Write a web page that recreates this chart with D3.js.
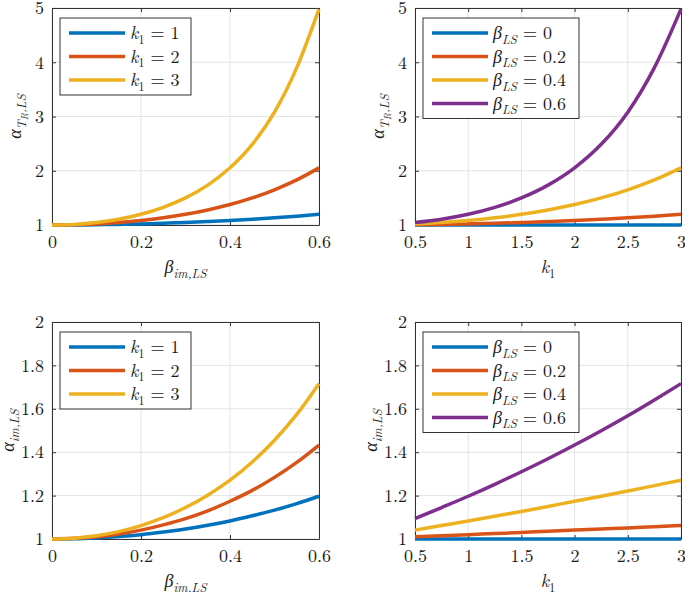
<!DOCTYPE html>
<html>
<head>
<meta charset="utf-8">
<script src="https://cdn.jsdelivr.net/npm/d3@7"></script>
</head>
<body style="margin:0; background:#fff">
<div id="chart-area"></div>
<script>
// x grids
const betaGrid = [0, 0.05, 0.1, 0.15, 0.2, 0.25, 0.3, 0.35, 0.4, 0.45, 0.5, 0.55, 0.6];
const k1Grid = [0.5, 0.75, 1, 1.25, 1.5, 1.75, 2, 2.25, 2.5, 2.75, 3];

// alpha_T vs beta (top left)
const aT_k1 = [1, 1.001, 1.005, 1.011, 1.020, 1.032, 1.046, 1.063, 1.083, 1.107, 1.133, 1.163, 1.197];
const aT_k2 = [1, 1.005, 1.020, 1.046, 1.083, 1.133, 1.197, 1.278, 1.377, 1.499, 1.649, 1.831, 2.054];
const aT_k3 = [1, 1.011, 1.046, 1.107, 1.197, 1.325, 1.499, 1.735, 2.054, 2.487, 3.080, 3.901, 4.98];

// alpha_T vs k1 (top right)
const aT_b0  = [1, 1, 1, 1, 1, 1, 1, 1, 1, 1, 1];
const aT_b02 = [1.005, 1.011, 1.020, 1.032, 1.046, 1.063, 1.083, 1.107, 1.133, 1.163, 1.197];
const aT_b04 = [1.020, 1.046, 1.083, 1.133, 1.197, 1.278, 1.377, 1.499, 1.649, 1.831, 2.054];
const aT_b06 = [1.046, 1.107, 1.197, 1.325, 1.499, 1.735, 2.054, 2.487, 3.080, 3.901, 4.98];

// alpha_im vs beta (bottom left)
const aIm_k1 = [1, 1.001, 1.005, 1.011, 1.020, 1.032, 1.046, 1.063, 1.083, 1.107, 1.133, 1.163, 1.197];
const aIm_k2 = [1, 1.003, 1.010, 1.023, 1.041, 1.065, 1.094, 1.130, 1.174, 1.224, 1.284, 1.353, 1.433];
const aIm_k3 = [1, 1.004, 1.015, 1.034, 1.062, 1.098, 1.145, 1.202, 1.271, 1.355, 1.455, 1.574, 1.716];

// alpha_im vs k1 (bottom right)
const aIm_b0  = [1, 1, 1, 1, 1, 1, 1, 1, 1, 1, 1];
const aIm_b02 = [1.010, 1.015, 1.020, 1.025, 1.030, 1.036, 1.041, 1.046, 1.051, 1.057, 1.062];
const aIm_b04 = [1.041, 1.062, 1.083, 1.105, 1.127, 1.150, 1.174, 1.197, 1.221, 1.246, 1.271];
const aIm_b06 = [1.094, 1.145, 1.197, 1.252, 1.310, 1.370, 1.433, 1.499, 1.568, 1.641, 1.716];

// ticks
const betaTicks = [0, 0.2, 0.4, 0.6];
const k1Ticks = [0.5, 1, 1.5, 2, 2.5, 3];
const aTTicks = [1, 2, 3, 4, 5];
const aImTicks = [1, 1.2, 1.4, 1.6, 1.8, 2];

// legend labels
const kLegend = ["1", "2", "3"];
const bLegend = ["0", "0.2", "0.4", "0.6"];

const colors = ["#0072BD", "#D95319", "#EDB120", "#7E2F8E"];
const FS = 18;
const FONT = '"Latin Modern Roman", "Liberation Serif", serif';

const svg = d3.select("#chart-area").append("svg")
    .attr("width", 685)
    .attr("height", 592);

// write a label made of italic / subscript pieces
function mathText(text, parts, size) {
    const shift = [0, 0.25, 0.4];
    const scale = [1, 0.7, 0.55];
    let prev = 0;
    text.style("font-family", FONT).style("fill", "#1a1a1a");
    parts.forEach(p => {
        const lvl = p.l || 0;
        const off = shift[lvl] * size;
        text.append("tspan")
            .attr("dy", off - prev)
            .style("font-size", (size * scale[lvl]) + "px")
            .style("font-style", p.i ? "italic" : "normal")
            .text(p.t);
        prev = off;
    });
}

const kLabel = v => [{t: "k", i: true}, {t: "1", l: 1}, {t: " = " + v}];
const bLabel = v => [{t: "β", i: true}, {t: "LS", l: 1, i: true}, {t: " = " + v}];

const xBeta = [{t: "β", i: true}, {t: "im,LS", l: 1, i: true}];
const xK = [{t: "k", i: true}, {t: "1", l: 1}];
const yT = [{t: "α", i: true}, {t: "T", l: 1, i: true}, {t: "R", l: 2, i: true}, {t: ",LS", l: 1, i: true}];
const yIm = [{t: "α", i: true}, {t: "im,LS", l: 1, i: true}];

const panels = [
    {x0: 52, x1: 319, y0: 8, y1: 225, xd: [0, 0.6], yd: [1, 5], xt: betaTicks, yt: aTTicks,
     xs: betaGrid, series: [aT_k1, aT_k2, aT_k3], leg: kLegend.map(kLabel), legW: 131,
     xl: xBeta, yl: yT, ylOff: 31},
    {x0: 415, x1: 681, y0: 8, y1: 225, xd: [0.5, 3], yd: [1, 5], xt: k1Ticks, yt: aTTicks,
     xs: k1Grid, series: [aT_b0, aT_b02, aT_b04, aT_b06], leg: bLegend.map(bLabel), legW: 156,
     xl: xK, yl: yT, ylOff: 31},
    {x0: 52, x1: 319, y0: 322, y1: 539, xd: [0, 0.6], yd: [1, 2], xt: betaTicks, yt: aImTicks,
     xs: betaGrid, series: [aIm_k1, aIm_k2, aIm_k3], leg: kLegend.map(kLabel), legW: 131,
     xl: xBeta, yl: yIm, ylOff: 38},
    {x0: 415, x1: 681, y0: 322, y1: 539, xd: [0.5, 3], yd: [1, 2], xt: k1Ticks, yt: aImTicks,
     xs: k1Grid, series: [aIm_b0, aIm_b02, aIm_b04, aIm_b06], leg: bLegend.map(bLabel), legW: 156,
     xl: xK, yl: yIm, ylOff: 38}
];

panels.forEach(p => {
    const x = d3.scaleLinear().domain(p.xd).range([p.x0, p.x1]);
    const y = d3.scaleLinear().domain(p.yd).range([p.y1, p.y0]);
    const g = svg.append("g");

    // grid
    g.append("g").selectAll("line").data(p.xt).enter().append("line")
        .attr("x1", d => x(d)).attr("x2", d => x(d))
        .attr("y1", p.y0).attr("y2", p.y1)
        .attr("stroke", "#e3e3e3").attr("stroke-width", 1);
    g.append("g").selectAll("line").data(p.yt).enter().append("line")
        .attr("x1", p.x0).attr("x2", p.x1)
        .attr("y1", d => y(d)).attr("y2", d => y(d))
        .attr("stroke", "#e3e3e3").attr("stroke-width", 1);

    // axes (box with inward ticks)
    const axes = [
        [d3.axisBottom(x).tickValues(p.xt).tickFormat(d3.format("")).tickPadding(10), `translate(0,${p.y1})`],
        [d3.axisLeft(y).tickValues(p.yt).tickFormat(d3.format("")).tickPadding(8), `translate(${p.x0},0)`],
        [d3.axisTop(x).tickValues(p.xt).tickFormat(""), `translate(0,${p.y0})`],
        [d3.axisRight(y).tickValues(p.yt).tickFormat(""), `translate(${p.x1},0)`]
    ];
    axes.forEach(([ax, tr]) => {
        const a = g.append("g").attr("transform", tr)
            .call(ax.tickSizeInner(-4).tickSizeOuter(0));
        a.select(".domain").attr("stroke", "#333");
        a.selectAll(".tick line").attr("stroke", "#333");
        a.selectAll("text")
            .style("font-size", FS + "px")
            .style("font-family", FONT)
            .style("fill", "#1a1a1a");
    });

    // lines
    const line = d3.line()
        .x((d, i) => x(p.xs[i]))
        .y(d => y(d))
        .curve(d3.curveMonotoneX);
    p.series.forEach((s, i) => {
        g.append("path")
            .attr("d", line(s))
            .attr("fill", "none")
            .attr("stroke", colors[i])
            .attr("stroke-width", 3.5);
    });

    // legend
    const lx = p.x0 + 8, ly = p.y0 + 10;
    const rowH = 23.5;
    const legH = 30 + (p.leg.length - 1) * rowH;
    g.append("rect")
        .attr("x", lx).attr("y", ly)
        .attr("width", p.legW).attr("height", legH)
        .attr("fill", "#fff").attr("stroke", "#333").attr("stroke-width", 1);
    p.leg.forEach((lab, i) => {
        const cy = ly + 15 + i * rowH;
        g.append("line")
            .attr("x1", lx + 9).attr("x2", lx + 65)
            .attr("y1", cy).attr("y2", cy)
            .attr("stroke", colors[i]).attr("stroke-width", 3.5);
        const t = g.append("text")
            .attr("x", lx + 70).attr("y", cy + 6);
        mathText(t, lab, FS);
    });

    // axis labels
    const xt = g.append("text")
        .attr("x", (p.x0 + p.x1) / 2).attr("y", p.y1 + 48)
        .attr("text-anchor", "middle");
    mathText(xt, p.xl, FS);
    const yt = g.append("text")
        .attr("transform", `translate(${p.x0 - p.ylOff},${(p.y0 + p.y1) / 2}) rotate(-90)`)
        .attr("text-anchor", "middle");
    mathText(yt, p.yl, FS);
});
</script>
</body>
</html>
